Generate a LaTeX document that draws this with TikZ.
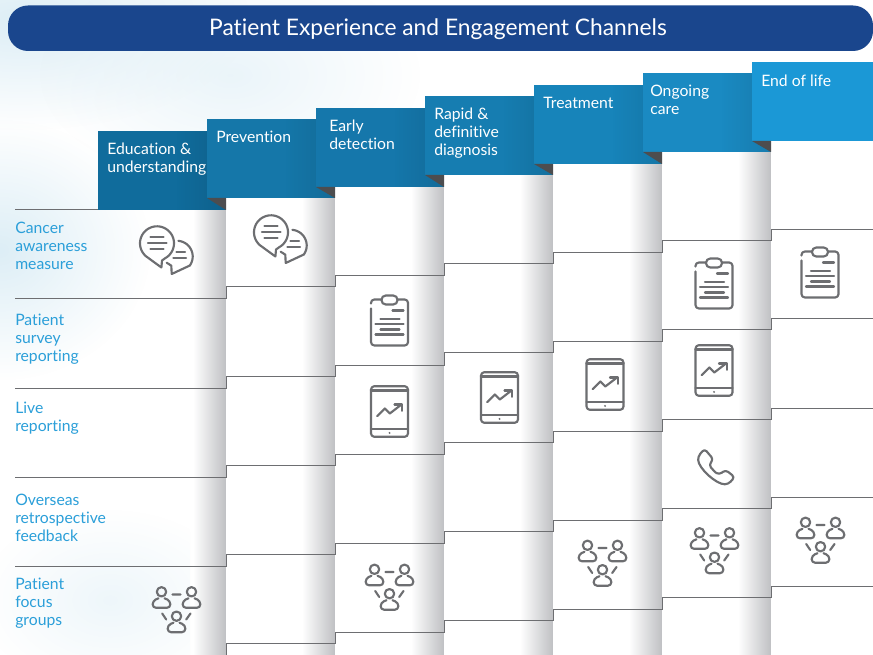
\documentclass[tikz,border=0pt]{standalone}
\usepackage{fontspec}
\setmainfont[Ligatures=NoCommon]{Lato}
\usetikzlibrary{fadings}
\tikzfading[name=softfade, inner color=transparent!0, outer color=transparent!100]
\definecolor{iconcol}{HTML}{6D6E71}
\definecolor{bannercol}{HTML}{1A468D}
\definecolor{rowtext}{HTML}{2B9FD9}
\definecolor{foldcol}{HTML}{4D4D4F}
\definecolor{edgecol}{HTML}{BFC0C3}
\definecolor{wisp}{HTML}{DDEEF6}
\tikzset{
  iconline/.style={draw=iconcol,line width=1.6pt,line cap=round,line join=round},
  headtext/.style={anchor=north west,inner sep=0pt,align=left,text=white,font=\fontsize{11.8}{13.5}\selectfont},
  rowlabel/.style={anchor=north west,inner sep=0pt,align=left,text=rowtext,font=\fontsize{11.8}{13.5}\selectfont},
  stepline/.style={draw=iconcol,line width=0.75pt},
  softwisp/.style={fill=wisp,path fading=softfade},
  pics/clipicon/.style={code={
    \draw[iconline,rounded corners=2.5pt] (-18.5,-12)--(-18.5,25)--(18.5,25)--(18.5,-21)--(8,-21);
    \draw[iconline,rounded corners=2.5pt] (-8,-21)--(-18.5,-21)--(-18.5,-17);
    \draw[iconline,rounded corners=3.2pt] (-8,-25)rectangle(8,-16);
    \draw[iconline] (3,-10)--(14,-10) (-9,-1.3)--(10,-1.3) (-14,3.7)--(14,3.7) (-9,9)--(10,9) (-14,14)--(14,14);
  }},
  pics/tableticon/.style={code={
    \draw[iconline,rounded corners=2.5pt] (-18.5,-25.3) rectangle (18.5,25.3);
    \draw[iconline] (-18.5,-21)--(18.5,-21) (-18.5,17.7)--(18.5,17.7);
    \fill[iconcol] (0,21.4) circle (1.1);
    \draw[iconline] (-12.3,4.7)--(-4.7,-3)--(0.3,2)--(12,-7);
    \draw[iconline] (5,-7)--(12.7,-7)--(12.7,-0.7);
  }},
  pics/phoneicon/.style={code={
    \draw[iconline,rounded corners=2.5pt] (-12,-17.7)--(-3,-7)--(-7.7,-1.7) .. controls (-4,3) and (-1,6) .. (2.7,8.3)--(9,3.3)--(18.3,10.7)--(11.7,17.7) .. controls (0,18) and (-18,2) .. (-18.5,-10)--cycle;
  }},
  pics/oneperson/.style={code={
    \draw[iconline] (0,0) circle (4.7);
    \draw[iconline,rounded corners=2.5pt] (-3,6.5)--(-8.8,9)--(-8.8,16)--(8.8,16)--(8.8,9)--(3,6.5);
  }},
  pics/peopleicon/.style={code={
    \pic at (-15,-17.7) {oneperson};
    \pic at (15,-17.7) {oneperson};
    \pic at (0,6.7) {oneperson};
    \draw[iconline] (-4,-15)--(4,-15) (-14.3,4)--(-10.3,10) (14,4)--(9.7,10);
  }},
  pics/bubbleicon/.style={code={
    \draw[iconline] plot[domain=60:-230,samples=50,variable=\a] ({-9+17*cos(\a)},{-6.7+17*sin(\a)}) --(-4.6,17.5)--(-4,10.5)--(-0.5,8);
    \draw[iconline] (-15.5,-12.7)--(-2.5,-12.7) (-18,-6.7)--(0.5,-6.7) (-15.5,-1)--(-2.5,-1);
    \draw[iconline] plot[domain=-85:35,samples=30,variable=\a] ({11+15.7*cos(\a)},{6.5+15.7*sin(\a)}) --(5.7,24)--(5.3,15.7)--(0.7,12.7);
    \draw[iconline] (10.5,1.7)--(19,1.7) (7.3,7.7)--(20,7.7);
  }},
}
\begin{document}
\begin{tikzpicture}[x=0.75pt,y=-0.75pt]
\useasboundingbox (0,0) rectangle (873,655);
\clip (0,0) rectangle (873,655);
\fill[white] (0,0) rectangle (873,655);
% background wisps
\fill[softwisp] (20,20) ellipse (230 and 110);
\fill[softwisp,opacity=.6] (230,75) ellipse (190 and 110);
% columns
\foreach \l/\r/\t in {0/226/210,226/335/198,335/444/187,444/553/175,553/662/164,662/771/152}{
  \fill[white] (\l,\t) rectangle (\r,655);
  \shade[left color=white,right color=edgecol,shading angle=90] (\r-33,\t) rectangle (\r,655);
}
\fill[white] (771,141) rectangle (873,655);
% wisp over first column
\begin{scope}
\clip (0,100) rectangle (190,655);
\fill[softwisp] (0,250) ellipse (150 and 130);
\fill[softwisp,opacity=.5] (110,600) ellipse (130 and 90);
\end{scope}
% step lines
\foreach \d in {89,178,267,356,445}{
  \draw[stepline] (15,210+\d)--(226,210+\d)--(226,198+\d)--(335,198+\d)--(335,187+\d)--(444,187+\d)--(444,175+\d)--(553,175+\d)--(553,164+\d)--(662,164+\d)--(662,152+\d)--(771,152+\d)--(771,141+\d)--(873,141+\d);
}
\draw[stepline] (15,209.5)--(98,209.5);
% banner
\fill[bannercol,rounded corners=15pt] (8,5.5) rectangle (873,51);
\node (title) at (438,29) [text=white,inner sep=0pt,font=\fontsize{17.1}{20}\selectfont] {Patient Experience and Engagement Channels};
% headers
\foreach \l/\r/\t/\c in {98/226/210/106C9C,207/335/198/1577A9,316/444/187/1577AB,425/553/175/167DB1,534/662/164/1784BA,643/771/152/1A8AC2}{
  \definecolor{hc}{HTML}{\c}
  \fill[hc] (\l,\t-79) rectangle (\r,\t);
  \fill[black,opacity=.1,path fading=west] (\r-50,\t-79) rectangle (\r,\t);
}
\fill[fill={rgb,255:red,27;green,152;blue,214}] (752,62) rectangle (873,141);
% folds
\foreach \l/\r/\a/\b in {207/226/198/210,316/335/187/198,425/444/175/187,534/553/164/175,643/662/152/164,752/771/141/152}{
  \fill[foldcol] (\l,\a)--(\r,\a)--(\r,\b)--cycle;
}
% header text
\node[headtext] (h1) at (107,143) {Education \&\\understanding};
\node[headtext] (h2) at (216,131) {Prevention};
\node[headtext] (h3) at (329,120) {Early\\detection};
\node[headtext] (h4) at (434,108) {Rapid \&\\definitive\\diagnosis};
\node[headtext] (h5) at (543,97) {Treatment};
\node[headtext] (h6) at (650,85) {Ongoing\\care};
\node[headtext] (h7) at (761,75) {End of life};
% row labels
\node[rowlabel] (r1) at (15,222) {Cancer\\awareness\\measure};
\node[rowlabel] (r2) at (15,314) {Patient\\survey\\reporting};
\node[rowlabel] (r3) at (15,402) {Live\\reporting};
\node[rowlabel] (r4) at (15,494) {Overseas\\retrospective\\feedback};
\node[rowlabel] (r5) at (15,578) {Patient\\focus\\groups};
% icons
\pic at (166,250) {bubbleicon};
\pic at (280,239) {bubbleicon};
\pic at (389.5,320.5) {clipicon};
\pic at (714,283.5) {clipicon};
\pic at (820,272.5) {clipicon};
\pic at (389.5,411.5) {tableticon};
\pic at (499.5,397.5) {tableticon};
\pic at (605,384.5) {tableticon};
\pic at (714,370.5) {tableticon};
\pic at (716.5,466.5) {phoneicon};
\pic at (176.5,609.5) {peopleicon};
\pic at (389.5,587) {peopleicon};
\pic at (602.5,563) {peopleicon};
\pic at (714.5,550.5) {peopleicon};
\pic at (820.5,540) {peopleicon};
\end{tikzpicture}
\end{document}
